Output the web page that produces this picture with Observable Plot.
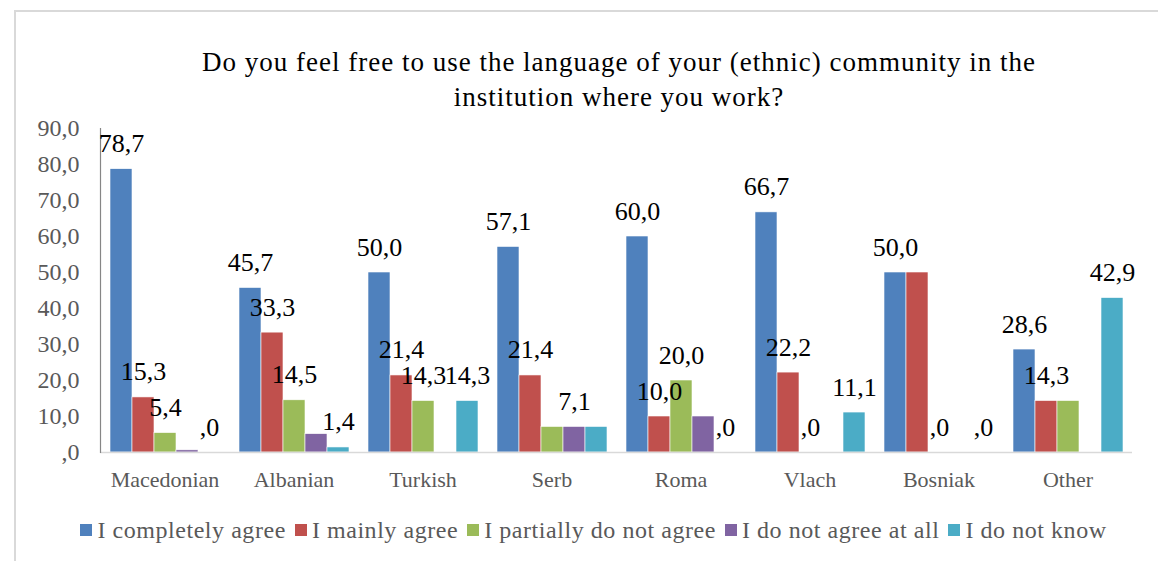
<!DOCTYPE html>
<html>
<head>
<meta charset="utf-8">
<script src="https://cdn.jsdelivr.net/npm/d3@7"></script>
<script src="https://cdn.jsdelivr.net/npm/@observablehq/plot@0.6"></script>
<style>
  html, body { margin: 0; padding: 0; background: #fff; overflow: hidden; }
  #wrap { position: relative; width: 1158px; height: 561px; font-family: "Liberation Serif", serif; }
  #border { position: absolute; left: 14px; top: 10px; width: 1200px; height: 600px; border-left: 2px solid #d9d9d9; border-top: 2px solid #d9d9d9; }
  #title { position: absolute; left: 80px; width: 1078px; top: 45px; text-align: center; font-size: 27px; letter-spacing: 1px; line-height: 35px; color: #000; white-space: nowrap; }
  #chart { position: absolute; left: 0; top: 0; }
  #legend { position: absolute; left: 80px; width: 1027px; top: 515px; display: flex; justify-content: center; font-size: 24px; letter-spacing: 0.55px; line-height: 30px; color: #595959; white-space: nowrap; }
  .item { display: flex; align-items: center; margin-right: 9px; }
  .item:last-child { margin-right: 0; }
  .sw { width: 12px; height: 12px; margin-right: 5px; }
</style>
</head>
<body>
<div id="wrap">
  <div id="border"></div>
  <div id="chart"></div>
  <div id="title">Do you feel free to use the language of your (ethnic) community in the<br>institution where you work?</div>
  <div id="legend"></div>
</div>
<script>
const categories = ["Macedonian", "Albanian", "Turkish", "Serb", "Roma", "Vlach", "Bosniak", "Other"];
const series = ["I completely agree", "I mainly agree", "I partially do not agree", "I do not agree at all", "I do not know"];
const colors = ["#4F81BD", "#C0504D", "#9BBB59", "#8064A2", "#4BACC6"];

const completelyAgree   = [78.7, 45.7, 50.0, 57.1, 60.0, 66.7, 50.0, 28.6];
const mainlyAgree       = [15.3, 33.3, 21.4, 21.4, 10.0, 22.2, 50.0, 14.3];
const partiallyDisagree = [5.4, 14.5, 14.3, 7.1, 20.0, 0, 0, 14.3];
const notAgreeAtAll     = [0.6, 5.1, 0, 7.1, 10.0, 0, 0, 0];
const doNotKnow         = [0, 1.4, 14.3, 7.1, 0, 11.1, 0, 42.9];

// which data labels are visible in the original (1 = shown)
const labelsCompletely = [1, 1, 1, 1, 1, 1, 1, 1];
const labelsMainly     = [1, 1, 1, 1, 1, 1, 0, 1];
const labelsPartially  = [1, 1, 1, 0, 1, 1, 1, 0];
const labelsNotAtAll   = [0, 0, 0, 1, 0, 0, 0, 0];
const labelsDontKnow   = [1, 1, 1, 0, 1, 1, 1, 1];

const yTicks = [0, 10, 20, 30, 40, 50, 60, 70, 80, 90];

const valueSets = [completelyAgree, mainlyAgree, partiallyDisagree, notAgreeAtAll, doNotKnow];
const labelSets = [labelsCompletely, labelsMainly, labelsPartially, labelsNotAtAll, labelsDontKnow];

const rows = [];
series.forEach((s, si) => {
  categories.forEach((c, ci) => {
    rows.push({category: c, series: s, value: valueSets[si][ci], shown: labelSets[si][ci] === 1});
  });
});

const fmt = v => v === 0 ? ",0" : v.toFixed(1).replace(".", ",");

const chart = Plot.plot({
  width: 1158,
  height: 561,
  marginTop: 128,
  marginBottom: 109,
  marginLeft: 98,
  marginRight: 24,
  style: {fontFamily: "Liberation Serif, serif", background: "transparent"},
  fx: {domain: categories, paddingInner: 0, paddingOuter: 0, label: null},
  x: {domain: series, paddingInner: 0, paddingOuter: 0.39, axis: null},
  y: {domain: [0, 90], label: null},
  color: {domain: series, range: colors},
  marks: [
    Plot.barY(rows, {fx: "category", x: "series", y: "value", fill: "series", stroke: "white", strokeWidth: 0.6}),
    Plot.ruleY([0], {stroke: "#d9d9d9", strokeWidth: 1.5}),
    Plot.frame({anchor: "left", facetAnchor: "left", stroke: "#868686", strokeWidth: 1.2}),
    Plot.axisY(yTicks, {tickSize: 0, tickPadding: 21, fontSize: 24, color: "#595959", tickFormat: fmt, label: null}),
    Plot.axisFx({anchor: "bottom", tickSize: 0, tickPadding: 19, fontSize: 22, color: "#595959", label: null}),
    Plot.text(rows.filter(d => d.shown), {fx: "category", x: "series", y: "value", text: d => fmt(d.value), lineAnchor: "bottom", dy: -17, fontSize: 26, fill: "#000"})
  ]
});
document.getElementById("chart").appendChild(chart);

const legend = document.getElementById("legend");
series.forEach((s, i) => {
  const item = document.createElement("div");
  item.className = "item";
  const sw = document.createElement("div");
  sw.className = "sw";
  sw.style.background = colors[i];
  const t = document.createElement("span");
  t.textContent = s;
  item.appendChild(sw);
  item.appendChild(t);
  legend.appendChild(item);
});
</script>
</body>
</html>
